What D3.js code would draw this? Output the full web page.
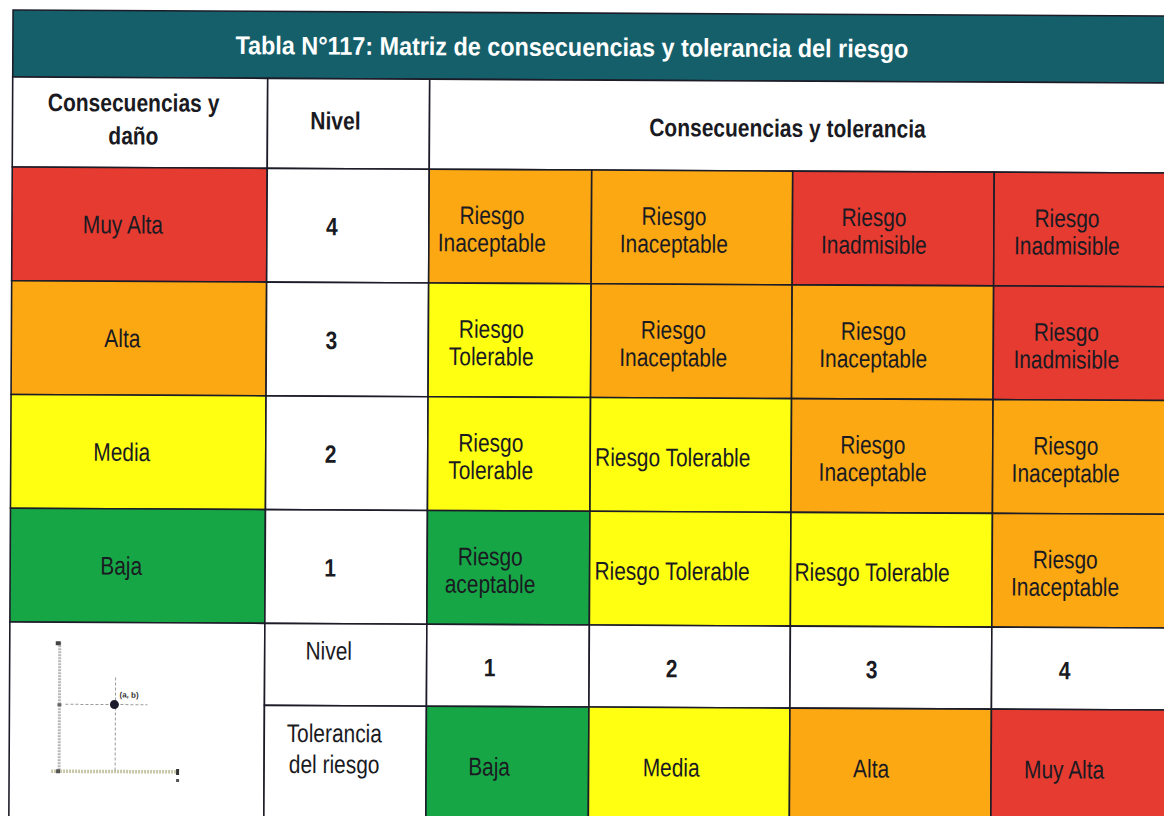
<!DOCTYPE html>
<html><head><meta charset="utf-8">
<script src="https://cdn.jsdelivr.net/npm/d3@7"></script>
<style>html,body{margin:0;padding:0;background:#fff;overflow:hidden}</style>
</head><body><svg id="chart" width="1164" height="816"></svg>
<script>
// ---------- data ----------
const title = "Tabla N°117: Matriz de consecuencias y tolerancia del riesgo";
const headerLabels = ["Consecuencias y\ndaño", "Nivel", "Consecuencias y tolerancia"];
const consequenceLabels = ["Muy Alta", "Alta", "Media", "Baja"];
const consequenceLevels = [4, 3, 2, 1];
const probabilityLevels = [1, 2, 3, 4];
const toleranceLabels = ["Baja", "Media", "Alta", "Muy Alta"];
const riskTiers = ["aceptable", "Tolerable", "Inaceptable", "Inadmisible"];
const matrixRow4 = ["Riesgo\nInaceptable", "Riesgo\nInaceptable", "Riesgo\nInadmisible", "Riesgo\nInadmisible"];
const matrixRow3 = ["Riesgo\nTolerable", "Riesgo\nInaceptable", "Riesgo\nInaceptable", "Riesgo\nInadmisible"];
const matrixRow2 = ["Riesgo\nTolerable", "Riesgo Tolerable", "Riesgo\nInaceptable", "Riesgo\nInaceptable"];
const matrixRow1 = ["Riesgo\naceptable", "Riesgo Tolerable", "Riesgo Tolerable", "Riesgo\nInaceptable"];
const bottomRowLabels = ["Nivel", "Tolerancia\ndel riesgo"];
const iconPointLabel = "(a, b)";

// ---------- layout & style ----------
const GREEN = "#17a646", YELLOW = "#ffff12", ORANGE = "#fba812", RED = "#e53b30", TEAL = "#155f6b";
const LINE = "#1c1c28", TEXT = "#1a1a22";
const FONT = "'Liberation Sans', Arial, sans-serif";

const tierColor = d3.scaleOrdinal().domain(riskTiers).range([GREEN, YELLOW, ORANGE, RED]);
const levelColor = d3.scaleOrdinal().domain([1, 2, 3, 4]).range([GREEN, YELLOW, ORANGE, RED]);

const yRow = d3.scaleBand().domain(consequenceLevels).range([170, 625]);
const xLeft = d3.scaleOrdinal().domain(probabilityLevels).range([428, 590.5, 791.5, 993]);
const xRight = d3.scaleOrdinal().domain(probabilityLevels).range([590.5, 791.5, 993, 1180]);
const xText = d3.scaleOrdinal().domain(probabilityLevels).range([491, 673, 873, 1066]);

const L = 11, C1 = 266, C2 = 428, R = 1180;
const bandTop = 13, bandBot = 80, headBot = 170, nivelBot = 707, bottom = 840;

const matrixRows = [matrixRow4, matrixRow3, matrixRow2, matrixRow1];
const cells = [];
consequenceLevels.forEach((lv, i) => {
  probabilityLevels.forEach((p, j) => {
    const txt = matrixRows[i][j];
    cells.push({ level: lv, prob: p, text: txt, tier: txt.split(/\s+/).pop() });
  });
});

const svg = d3.select("#chart");
const g = svg.append("g").attr("transform", "rotate(0.3,582,408)");

function rect(x0, y0, x1, y1, fill) {
  g.append("rect").attr("x", x0).attr("y", y0).attr("width", x1 - x0).attr("height", y1 - y0)
    .attr("fill", fill).attr("stroke", LINE).attr("stroke-width", 1.6);
}
function label(text, cx, cy, opts = {}) {
  const bold = !!opts.bold;
  const size = opts.size || (bold ? 25 : 25.5);
  const sx = opts.sx || (bold ? 0.84 : 0.82);
  const lh = opts.lh || 27.5;
  const lines = text.split("\n");
  const t = g.append("text").attr("text-anchor", "middle")
    .attr("transform", `translate(${cx},0) scale(${sx},1)`)
    .attr("font-family", FONT).attr("font-size", size)
    .attr("font-weight", bold ? "bold" : "normal")
    .attr("fill", opts.color || TEXT);
  lines.forEach((ln, k) => {
    t.append("tspan").attr("x", 0).attr("y", cy - (lines.length - 1) * lh / 2 + k * lh)
      .attr("dy", "0.35em").text(ln);
  });
  return t;
}

// header band
rect(L, bandTop, R, bandBot, TEAL);
label(title, 570, 47, { size: 25.5, sx: 0.917, bold: true, color: "#ffffff" });

// header row
rect(L, bandBot, C1, headBot, "#fff");
rect(C1, bandBot, C2, headBot, "#fff");
rect(C2, bandBot, R, headBot, "#fff");
label(headerLabels[0], 132, 121.5, { bold: true, lh: 33 });
label(headerLabels[1], 334, 122, { bold: true });
label(headerLabels[2], 786, 127, { bold: true });

// left columns
consequenceLevels.forEach((lv, i) => {
  const y0 = yRow(lv), y1 = y0 + yRow.bandwidth();
  rect(L, y0, C1, y1, levelColor(lv));
  rect(C1, y0, C2, y1, "#fff");
  label(consequenceLabels[i], 122, y0 + yRow.bandwidth() / 2);
  label(String(lv), 331, y0 + yRow.bandwidth() / 2 + 1, { bold: true });
});

// matrix
cells.forEach(c => {
  const y0 = yRow(c.level);
  rect(xLeft(c.prob), y0, xRight(c.prob), y0 + yRow.bandwidth(), tierColor(c.tier));
});
cells.forEach(c => {
  const cy = yRow(c.level) + yRow.bandwidth() / 2 + 2.5;
  label(c.text, xText(c.prob), cy);
});

// bottom rows
rect(L, 625, C1, bottom, "#fff");
rect(C1, 625, C2, nivelBot, "#fff");
rect(C1, nivelBot, C2, bottom, "#fff");
label(bottomRowLabels[0], 330, 652);
label(bottomRowLabels[1], 336, 750, { lh: 31 });
probabilityLevels.forEach((p, j) => {
  rect(xLeft(p), 625, xRight(p), nivelBot, "#fff");
  rect(xLeft(p), nivelBot, xRight(p), bottom, levelColor(p));
});
probabilityLevels.forEach((p, j) => {
  label(String(p), xText(p), 668, { bold: true });
  label(toleranceLabels[j], xText(p), 767);
});

// small axis icon
const ic = g.append("g").attr("transform", "translate(1,2)");
ic.append("line").attr("x1", 60).attr("y1", 643).attr("x2", 60).attr("y2", 772)
  .attr("stroke", "#b9b9b9").attr("stroke-width", 3).attr("stroke-dasharray", "2,1");
ic.append("line").attr("x1", 52).attr("y1", 772).attr("x2", 178).attr("y2", 772)
  .attr("stroke", "#c8c6a8").attr("stroke-width", 3.5).attr("stroke-dasharray", "2,1");
ic.append("line").attr("x1", 66).attr("y1", 705).attr("x2", 148).attr("y2", 705)
  .attr("stroke", "#9a9a9a").attr("stroke-width", 1).attr("stroke-dasharray", "3,2");
ic.append("line").attr("x1", 116).attr("y1", 678).attr("x2", 116).attr("y2", 772)
  .attr("stroke", "#9a9a9a").attr("stroke-width", 1).attr("stroke-dasharray", "3,2");
ic.append("circle").attr("cx", 115).attr("cy", 705).attr("r", 4.5).attr("fill", "#1a1a2a");
ic.append("rect").attr("x", 56).attr("y", 642).attr("width", 5).attr("height", 4).attr("fill", "#444");
ic.append("rect").attr("x", 57).attr("y", 770).attr("width", 4).attr("height", 4).attr("fill", "#555");
ic.append("rect").attr("x", 58).attr("y", 704).attr("width", 4).attr("height", 3).attr("fill", "#666");
ic.append("rect").attr("x", 177).attr("y", 769).attr("width", 3).attr("height", 6).attr("fill", "#333");
ic.append("rect").attr("x", 177).attr("y", 779).attr("width", 3).attr("height", 3).attr("fill", "#555");
ic.append("text").attr("x", 120).attr("y", 698).attr("font-family", FONT).attr("font-size", 8)
  .attr("font-weight", "bold").attr("fill", "#333").text(iconPointLabel);
</script>
</body></html>
